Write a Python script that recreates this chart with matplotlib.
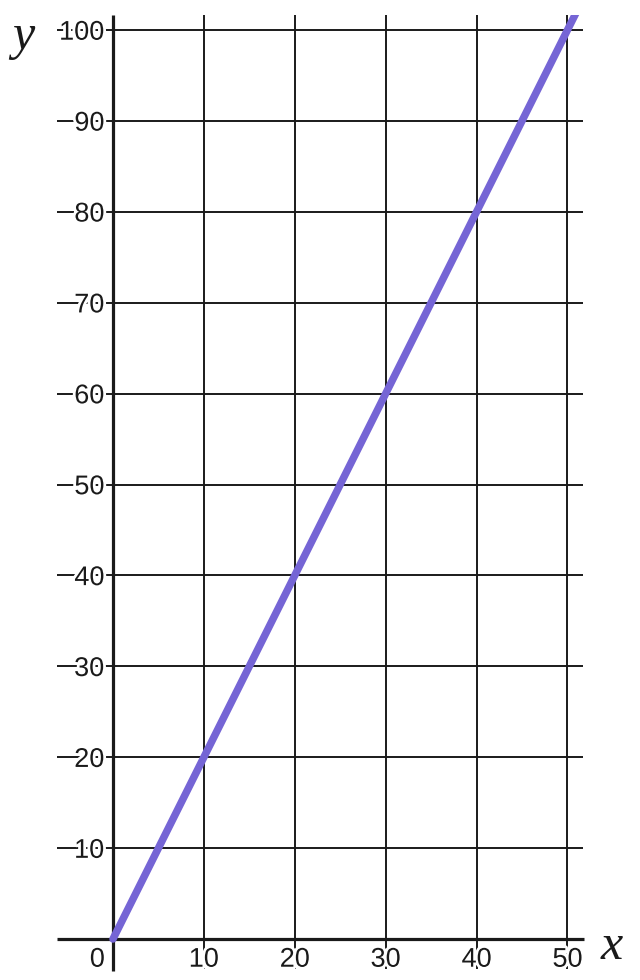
import matplotlib
matplotlib.use("Agg")
import matplotlib.pyplot as plt
import matplotlib.patheffects as pe
from matplotlib.patches import Rectangle
from matplotlib import font_manager

# Data
x_ticks = [10, 20, 30, 40, 50]
y_ticks = [10, 20, 30, 40, 50, 60, 70, 80, 90, 100]
x_labels = ["0", "10", "20", "30", "40", "50"]
y_labels = ["10", "20", "30", "40", "50", "60", "70", "80", "90", "100"]
line_x = [0, 52]
line_y = [0, 104]

available = {f.name for f in font_manager.fontManager.ttflist}
def pick(cands):
    for c in cands:
        if c in available:
            return c
    return "DejaVu Sans"
sans = pick(["Liberation Sans", "Arimo", "Arial", "Helvetica", "Roboto"])
serif = pick(["Liberation Serif", "Tinos", "Times New Roman", "DejaVu Serif"])

fig = plt.figure(figsize=(6.4, 9.8), dpi=100)
ax = fig.add_axes([0, 0, 1, 1])
ax.set_xlim(-12.43, 57.98)
ax.set_ylim(-4.51, 103.3)
ax.axis("off")

grid_kw = dict(color="#1a1a1a", linewidth=1.4, zorder=1)
ax.hlines(y_ticks, -6.16, 51.7, **grid_kw)
ax.vlines(x_ticks, -3.3, 101.65, **grid_kw)

axis_kw = dict(color="#1a1a1a", linewidth=2.3, zorder=2)
ax.hlines([0], -6.16, 51.8, **axis_kw)
ax.vlines([0], -3.5, 101.65, **axis_kw)

ln, = ax.plot(line_x, line_y, color="#7565d5", linewidth=5.4,
              solid_capstyle="round", zorder=4)
clip = Rectangle((-7, -5), 70, 106.65, transform=ax.transData)
ln.set_clip_path(clip)

halo = [pe.withStroke(linewidth=4, foreground="white")]
tfont = dict(family=sans, fontsize=19.5, color="#1a1a1a", zorder=3,
             path_effects=halo)

for v, lab in zip(y_ticks, y_labels):
    ax.text(-0.95, v - 1.07, lab, ha="right", va="baseline", **tfont)

ax.text(-0.9, -3.05, x_labels[0], ha="right", va="baseline", **tfont)
for v, lab in zip(x_ticks, x_labels[1:]):
    ax.text(v, -3.05, lab, ha="center", va="baseline", **tfont)

ax.text(54.9, -2.2, "x", ha="center", va="baseline", family=serif,
        style="italic", fontsize=36, color="#1a1a1a")
ax.text(-9.9, 97.9, "y", ha="center", va="baseline", family=serif,
        style="italic", fontsize=36, color="#1a1a1a")

fig.savefig("out.png", dpi=100)
